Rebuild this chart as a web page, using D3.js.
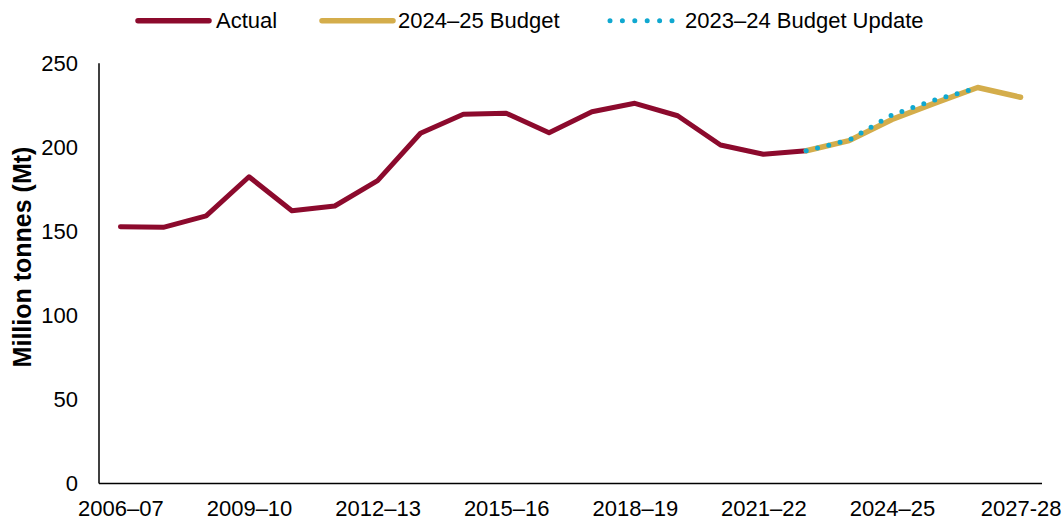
<!DOCTYPE html>
<html>
<head>
<meta charset="utf-8">
<script src="https://cdn.jsdelivr.net/npm/d3@7"></script>
<style>
  html, body { margin: 0; padding: 0; background: #ffffff; }
  svg { display: block; font-family: "Liberation Sans", Arial, sans-serif; }
</style>
</head>
<body>
<svg id="chart" width="1064" height="521"></svg>
<script>
// Financial years on the category axis
const years = [
  "2006–07","2007–08","2008–09","2009–10","2010–11","2011–12","2012–13",
  "2013–14","2014–15","2015–16","2016–17","2017–18","2018–19","2019–20",
  "2020–21","2021–22","2022–23","2023–24","2024–25","2025–26","2026–27","2027-28"
];
// Years that carry a label on the axis
const tickYears = ["2006–07","2009–10","2012–13","2015–16","2018–19","2021–22","2024–25","2027-28"];

// Actual volumes, Mt (2006–07 to 2022–23)
const actual = [152.8, 152.4, 159.2, 182.5, 162.3, 165.1, 180.2, 208.4, 219.7, 220.3,
                208.7, 221.2, 226.2, 218.8, 201.4, 195.9, 198.0];
// 2024–25 Budget projection, Mt (2022–23 to 2027–28)
const budget2425 = [198.0, 204.0, 216.6, 226.3, 235.6, 229.8];
// 2023–24 Budget Update projection, Mt (2022–23 to 2026–27)
const update2324 = [198.0, 204.3, 219.3, 228.2, 235.4];

const yTicks = [0, 50, 100, 150, 200, 250];

const colActual = "#8c0a2d";
const colBudget = "#d4ad4b";
const colUpdate = "#10a8d0";
const fontSize = 22;

const svg = d3.select("#chart");

const x = d3.scalePoint().domain(years).range([99, 1042]).padding(0.5);
const y = d3.scaleLinear().domain([0, 250]).range([483.5, 63.3]);

// Axes
const xAxis = svg.append("g")
  .attr("transform", `translate(0,${y(0)})`)
  .call(d3.axisBottom(x).tickValues(tickYears).tickSize(0).tickPadding(17));
xAxis.select(".domain").attr("stroke", "#000").attr("stroke-width", 1.5)
  .attr("d", `M99,0H1042`);
xAxis.selectAll("text").attr("font-size", fontSize).attr("fill", "#000")
  .attr("font-family", "Liberation Sans, Arial, sans-serif");

const yAxis = svg.append("g")
  .attr("transform", `translate(99,0)`)
  .call(d3.axisLeft(y).tickValues(yTicks).tickSize(0).tickPadding(21));
yAxis.select(".domain").attr("stroke", "#000").attr("stroke-width", 1.5)
  .attr("d", `M0,${y(250)}V${y(0)}`);
yAxis.selectAll("text").attr("font-size", fontSize).attr("fill", "#000")
  .attr("font-family", "Liberation Sans, Arial, sans-serif");

// Axis title
svg.append("text")
  .attr("transform", `translate(22,257) rotate(-90)`)
  .attr("text-anchor", "middle")
  .attr("dominant-baseline", "central")
  .attr("font-size", 25)
  .attr("font-weight", "bold")
  .attr("fill", "#000")
  .text("Million tonnes (Mt)");

// Lines
const line = d3.line().x(d => x(d.year)).y(d => y(d.value));
const toPts = (vals, start) => vals.map((v, i) => ({ year: years[start + i], value: v }));

svg.append("path")
  .datum(toPts(actual, 0))
  .attr("d", line)
  .attr("fill", "none")
  .attr("stroke", colActual)
  .attr("stroke-width", 5)
  .attr("stroke-linejoin", "round")
  .attr("stroke-linecap", "round");

svg.append("path")
  .datum(toPts(budget2425, 16))
  .attr("d", line)
  .attr("fill", "none")
  .attr("stroke", colBudget)
  .attr("stroke-width", 5.5)
  .attr("stroke-linejoin", "round")
  .attr("stroke-linecap", "round");

svg.append("path")
  .datum(toPts(update2324, 16))
  .attr("d", line)
  .attr("fill", "none")
  .attr("stroke", colUpdate)
  .attr("stroke-width", 5)
  .attr("stroke-dasharray", "0 11.6")
  .attr("stroke-linecap", "round");

// Legend
const legend = [
  { label: "Actual", color: colActual, x0: 138, x1: 209, tx: 216, width: 5.5, dash: null },
  { label: "2024–25 Budget", color: colBudget, x0: 322, x1: 393, tx: 398, width: 5.5, dash: null },
  { label: "2023–24 Budget Update", color: colUpdate, x0: 610, x1: 672.2, tx: 685, width: 5, dash: "0 12.4" }
];
const lg = svg.append("g");
legend.forEach(d => {
  lg.append("line")
    .attr("x1", d.x0).attr("x2", d.x1)
    .attr("y1", 20.7).attr("y2", 20.7)
    .attr("stroke", d.color)
    .attr("stroke-width", d.width)
    .attr("stroke-linecap", "round")
    .attr("stroke-dasharray", d.dash);
  lg.append("text")
    .attr("x", d.tx).attr("y", 20.7)
    .attr("dominant-baseline", "central")
    .attr("font-size", fontSize)
    .attr("fill", "#000")
    .text(d.label);
});
</script>
</body>
</html>
